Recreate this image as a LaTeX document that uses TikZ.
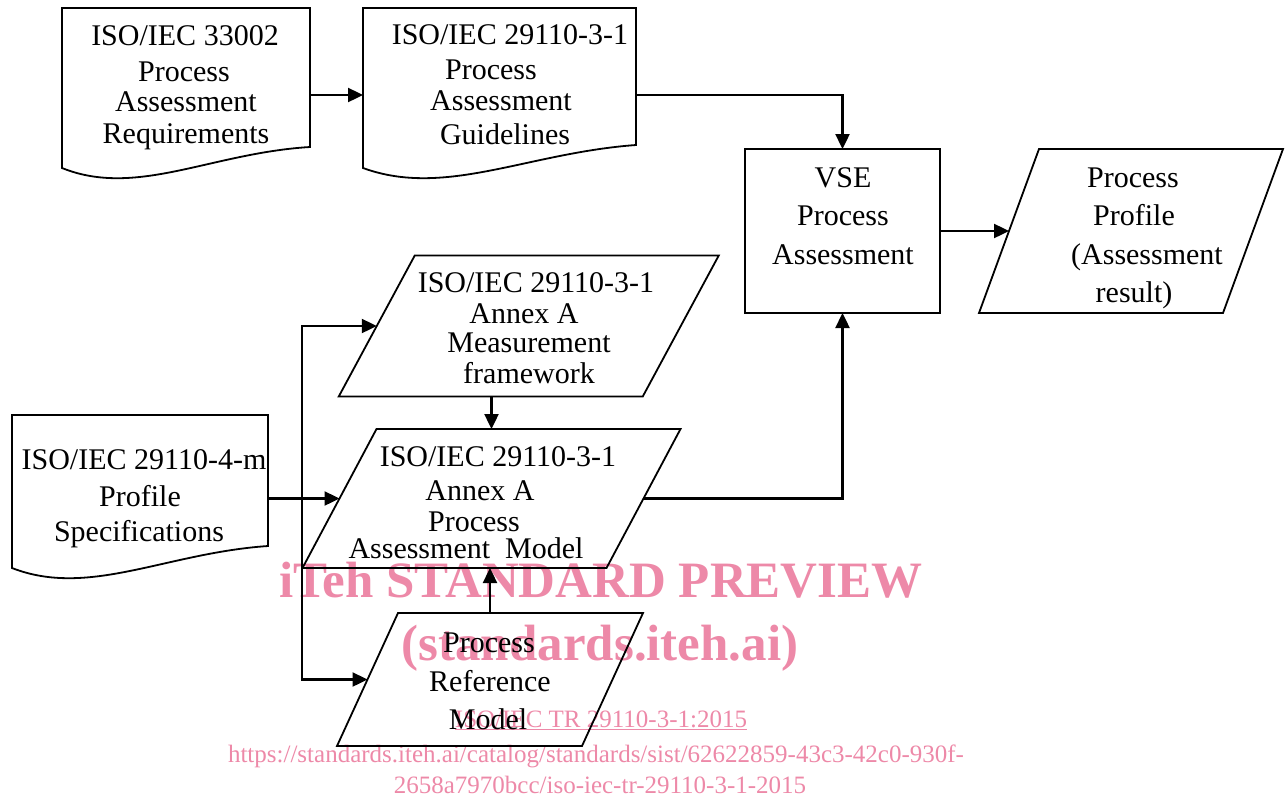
\documentclass[tikz,border=0pt]{standalone}
\usepackage{fontspec}
\setmainfont{Liberation Serif}
\usetikzlibrary{calc,arrows.meta}
\definecolor{wmpink}{RGB}{237,137,168}
\newcommand\docshape[3]{%
\draw[shp] (#1.north west) -- (#1.north east) -- ($(#1.south east)+(0,-#3)$)
 .. controls ($(#1.south west)+(0.6*#2,-15)$) and ($(#1.south west)+(0.3*#2,30)$) .. (#1.south west) -- cycle;}
\newcommand\parashape[2]{%
\draw[shp] ($(#1.north west)+(#2/2,0)$) -- ($(#1.north east)+(#2/2,0)$) -- ($(#1.south east)-(#2/2,0)$) -- ($(#1.south west)-(#2/2,0)$) -- cycle;}
\begin{document}
\begin{tikzpicture}[x=1pt,y=-1pt,
  box/.style={rectangle,inner sep=0pt,outer sep=0pt},
  shp/.style={line width=1.8pt,line join=miter},
  arr/.style={line width=2.4pt,-{Triangle[length=15pt,width=14pt]}},
  tx/.style={anchor=base,inner sep=0pt,font=\fontsize{30}{36}\selectfont},
  wmb/.style={anchor=base,inner sep=0pt,text=wmpink,font=\fontsize{51}{60}\selectfont\bfseries},
  wms/.style={anchor=base,inner sep=0pt,text=wmpink,font=\fontsize{25}{30}\selectfont}]
\useasboundingbox (0,0) rectangle (1288,798);
% watermark
\node[wmb] (wm1) at (601,597) {iTeh STANDARD PREVIEW};
\node[wmb] (wm2) at (600,660) {(standards.iteh.ai)};
\node[wms] (wm3) at (601,727) {\underline{ISO/IEC TR 29110-3-1:2015}};
\node[wms] (wm4) at (596,762) {https://standards.iteh.ai/catalog/standards/sist/62622859-43c3-42c0-930f-};
\node[wms] (wm5) at (600,793) {2658a7970bcc/iso-iec-tr-29110-3-1-2015};
% shapes
\node[box,minimum width=248pt,minimum height=160pt] (doc1) at (186,88) {};
\node[box,minimum width=273pt,minimum height=160pt] (doc2) at (499.5,88) {};
\node[box,minimum width=256pt,minimum height=153pt] (doc3) at (140,491.5) {};
\node[box,draw,line width=1.8pt,minimum width=195pt,minimum height=164pt] (vse) at (842.5,231) {};
\node[box,minimum width=244pt,minimum height=164pt] (pp) at (1131,231) {};
\node[box,minimum width=304pt,minimum height=141pt] (mf) at (528.75,326) {};
\node[box,minimum width=304pt,minimum height=139pt] (pam) at (491.5,498.5) {};
\node[box,minimum width=245pt,minimum height=133pt] (prm) at (490,679.5) {};
\docshape{doc1}{248}{21}
\docshape{doc2}{273}{23}
\docshape{doc3}{256}{22}
\parashape{pp}{60}
\parashape{mf}{76}
\parashape{pam}{74}
\parashape{prm}{61}
% texts
\node[tx] (d1a) at (185,45) {ISO/IEC 33002};
\node[tx] (d1b) at (184,81) {Process};
\node[tx] (d1c) at (186,111) {Assessment};
\node[tx] (d1d) at (186,143) {Requirements};
\node[tx] (d2a) at (510,44) {ISO/IEC 29110-3-1};
\node[tx] (d2b) at (491,79) {Process};
\node[tx] (d2c) at (501,110) {Assessment};
\node[tx] (d2d) at (505,144) {Guidelines};
\node[tx] (v1) at (843,187) {VSE};
\node[tx] (v2) at (843,225) {Process};
\node[tx] (v3) at (843,264) {Assessment};
\node[tx] (p1) at (1133,187) {Process};
\node[tx] (p2) at (1134,225) {Profile};
\node[tx] (p3) at (1147,264) {(Assessment};
\node[tx] (p4) at (1134,302) {result)};
\node[tx] (m1) at (536,292) {ISO/IEC 29110-3-1};
\node[tx] (m2) at (524,323) {Annex A};
\node[tx] (m3) at (529,352) {Measurement};
\node[tx] (m4) at (529,383) {framework};
\node[tx] (d3a) at (144,469) {ISO/IEC 29110-4-m};
\node[tx] (d3b) at (140,506) {Profile};
\node[tx] (d3c) at (139,541) {Specifications};
\node[tx] (a1) at (498,466) {ISO/IEC 29110-3-1};
\node[tx] (a2) at (480,500) {Annex A};
\node[tx] (a3) at (474,531) {Process};
\node[tx] (a4) at (466,558) {Assessment\ \ Model};
\node[tx] (r1) at (489,652) {Process};
\node[tx] (r2) at (490,691) {Reference};
\node[tx] (r3) at (488,729) {Model};
% connectors
\draw[arr] ([yshift=-7pt]doc1.east) -- ([yshift=-7pt]doc1.east -| doc2.west);
\draw[arr] ([yshift=-7pt]doc2.east) -| (vse.north);
\draw[arr] (vse.east) -- (pp.west);
\draw[arr] (pam.east) -| (vse.south);
\draw[arr] (pam.north |- mf.south) -- (pam.north);
\draw[arr] (prm.north) -- (prm.north |- pam.south);
\draw[arr] (doc3.east |- pam.west) -- (pam.west);
\coordinate (jn) at (302,498.5);
\draw[arr] (jn) |- (mf.west);
\draw[arr] (jn) |- (prm.west);
\end{tikzpicture}
\end{document}
